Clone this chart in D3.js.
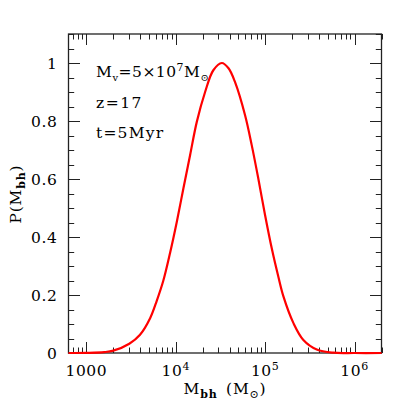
<!DOCTYPE html>
<html><head><meta charset="utf-8">
<script src="https://cdn.jsdelivr.net/npm/d3@7"></script>
<style>body{margin:0;background:#fff}svg text{font-family:"DejaVu Serif","Liberation Serif",serif;fill:#000}</style>
</head><body><svg id="c" width="403" height="403"></svg>
<script>
// Data
const massBH = [631, 1000, 1585, 2000, 3020, 3981, 5164, 6124, 7261, 8630, 10260, 12160, 14450, 17180, 21280, 26300, 32730, 38900, 46030, 59570, 70790, 83950, 99770, 118580, 140600, 159960, 207010, 267300, 377570, 575440, 1000000, 2000000];
const prob   = [0, 0.0005, 0.003, 0.008, 0.032, 0.063, 0.12, 0.18, 0.25, 0.345, 0.452, 0.567, 0.682, 0.797, 0.9, 0.975, 1.0, 0.982, 0.934, 0.82, 0.716, 0.60, 0.475, 0.36, 0.262, 0.195, 0.103, 0.045, 0.012, 0.001, 0, 0];
const xMajorTicks = [1000, 10000, 100000, 1000000];
const xTickLabels = [["1000", null], ["10", "4"], ["10", "5"], ["10", "6"]];
const yMajorTicks = [0, 0.2, 0.4, 0.6, 0.8, 1];
const yTickLabels = ["0", "0.2", "0.4", "0.6", "0.8", "1"];

const svg = d3.select("#c");
const L = 68.5, R = 381.5, T = 34, B = 353;
const x = d3.scaleLog().domain([631, 2000000]).range([L, R]);
const y = d3.scaleLinear().domain([0, 1.1]).range([B, T]);

// minor ticks
const xMinor = [];
for (let e = 2; e <= 6; e++) for (let k = 1; k <= 9; k++) { const v = k * Math.pow(10, e); if (v >= 631 && v <= 2000000) xMinor.push(v); }
const yMinor = d3.range(0, 1.1001, 0.05);

const axisColor = "#222";
const g = svg.append("g");
xMinor.forEach(v => {
  const major = xMajorTicks.includes(v);
  const len = major ? 11 : 5.5;
  const px = Math.round(x(v)) + 0.5;
  g.append("line").attr("x1", px).attr("x2", px).attr("y1", B).attr("y2", B - len).attr("stroke", axisColor);
  g.append("line").attr("x1", px).attr("x2", px).attr("y1", T).attr("y2", T + len).attr("stroke", axisColor);
});
yMinor.forEach(v => {
  const major = yMajorTicks.some(t => Math.abs(t - v) < 1e-6);
  const len = major ? 11.5 : 5.7;
  const py = Math.round(y(v)) + 0.5;
  g.append("line").attr("y1", py).attr("y2", py).attr("x1", L).attr("x2", L + len).attr("stroke", axisColor);
  g.append("line").attr("y1", py).attr("y2", py).attr("x1", R).attr("x2", R - len).attr("stroke", axisColor);
});
g.append("rect").attr("x", L).attr("y", T).attr("width", R - L).attr("height", B - T)
  .attr("fill", "none").attr("stroke", axisColor).attr("stroke-width", 1.3);

// x tick labels
xMajorTicks.forEach((v, i) => {
  const [base, exp] = xTickLabels[i];
  const t = svg.append("text").attr("x", x(v)).attr("y", 376).attr("text-anchor", "middle").attr("font-size", 15.5).attr("letter-spacing", 0.6);
  t.append("tspan").text(base);
  if (exp) t.append("tspan").attr("dy", -6).attr("font-size", 11).text(exp);
});
// y tick labels
yMajorTicks.forEach((v, i) => {
  svg.append("text").attr("x", 57.5).attr("y", y(v) + 5.5).attr("text-anchor", "end").attr("font-size", 15.5).attr("letter-spacing", 0.6).text(yTickLabels[i]);
});

// axis titles
const xt = svg.append("text").attr("x", 225).attr("y", 394).attr("text-anchor", "middle").attr("font-size", 15.5).attr("letter-spacing", 0.8);
xt.append("tspan").text("M");
xt.append("tspan").attr("dy", 4).attr("font-size", 11).attr("font-weight", "bold").text("bh");
xt.append("tspan").attr("dy", -4).text("\u2002(M");
xt.append("tspan").attr("dy", 4).attr("font-size", 11).text("\u2299");
xt.append("tspan").attr("dy", -4).text(")");

const yt = svg.append("text").attr("transform", "translate(21,194) rotate(-90)").attr("text-anchor", "middle").attr("font-size", 15.5).attr("letter-spacing", 0.8);
yt.append("tspan").text("P(M");
yt.append("tspan").attr("dy", 4).attr("font-size", 11).attr("font-weight", "bold").text("bh");
yt.append("tspan").attr("dy", -4).text(")");

// annotations
const a1 = svg.append("text").attr("x", 96).attr("y", 77).attr("font-size", 15.5).attr("letter-spacing", 0.5);
a1.append("tspan").text("M");
a1.append("tspan").attr("dy", 4).attr("font-size", 10).text("v");
a1.append("tspan").attr("dy", -4).text("=5\u00d710");
a1.append("tspan").attr("dy", -6).attr("font-size", 11).text("7");
a1.append("tspan").attr("dy", 6).text("M");
a1.append("tspan").attr("dy", 4).attr("font-size", 10).text("\u2299");
svg.append("text").attr("x", 96).attr("y", 108).attr("font-size", 15.5).attr("letter-spacing", 1.5).text("z=17");
svg.append("text").attr("x", 96).attr("y", 138).attr("font-size", 15.5).attr("letter-spacing", 1.2).text("t=5Myr");

// curve
const pts = massBH.map((m, i) => [m, prob[i]]);
const line = d3.line().x(d => x(d[0])).y(d => y(Math.max(0, d[1]))).curve(d3.curveCatmullRom.alpha(0.5));
svg.append("path").datum(pts).attr("d", line).attr("fill", "none").attr("stroke", "#ff0000").attr("stroke-width", 2.2);
</script></body></html>
